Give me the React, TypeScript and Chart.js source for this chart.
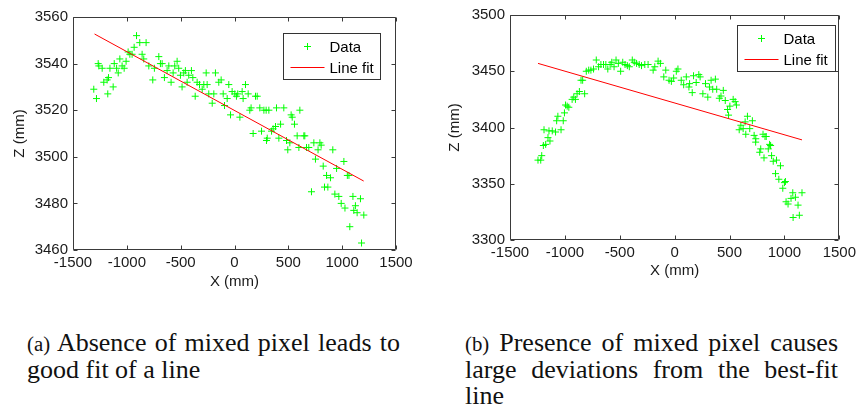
import React, { useEffect, useRef } from "react";
import { Chart, registerables } from "chart.js";
Chart.register(...registerables);

// ---------- data ----------
const seriesLabels = ["Data", "Line fit"];
const xTitle = "X (mm)";
const zTitle = "Z (mm)";
const xTicks = [-1500, -1000, -500, 0, 500, 1000, 1500];
const aZTicks = [3460, 3480, 3500, 3520, 3540, 3560];
const bZTicks = [3300, 3350, 3400, 3450, 3500];

// (a) absence of mixed pixel
const aX = [
  -1307, -1282, -1266, -1260, -1229, -1214, -1183, -1177, -1170, -1157, -1127, -1117, -1095, -1080,
  -1065, -1044, -1025, -1007, -988, -972, -951, -932, -910, -880, -858, -843, -821, -796, -759, -744,
  -703, -688, -672, -651, -626, -610, -589, -570, -555, -533, -518, -502, -487, -471, -456, -440, -425,
  -400, -387, -365, -347, -325, -300, -285, -263, -254, -239, -207, -192, -177, -146,
  -124, -105, -93, -68, -53, -37, -22, 3, 18, 30, 50, 71, 80, 102, 127, 142, 154, 173, 195, 211, 235,
  251, 273, 294, 304, 319, 344, 359, 381, 390, 412, 428, 458, 483, 514, 526, 536, 557, 582, 607, 644,
  669, 737, 793,
  297, 495, 598, 653, 690, 715, 752, 776, 805, 824, 836, 855, 867, 892, 913, 932, 948, 969, 991, 1016,
  1026, 1048, 1063, 1071, 1100, 1108, 1123, 1139, 1170, 1180, 1201,
];
const aZ = [
  3529, 3525, 3540, 3539, 3538, 3532, 3533, 3527, 3534, 3538, 3530, 3540, 3538, 3536,
  3542, 3539, 3538, 3541, 3545, 3544, 3544, 3547, 3552, 3549, 3544, 3542, 3549, 3539, 3533, 3538,
  3543, 3540, 3540, 3534, 3537, 3539, 3532, 3536, 3539, 3541, 3538, 3535, 3530, 3536, 3537, 3532, 3535,
  3537, 3534, 3526, 3532, 3531, 3529, 3531, 3536, 3531, 3527, 3523, 3527, 3536, 3532,
  3533, 3527, 3522, 3525, 3531, 3518, 3528, 3527, 3526, 3527, 3517, 3528, 3525, 3531, 3527, 3520, 3521,
  3510, 3526, 3526, 3521, 3511, 3520, 3520, 3508, 3520, 3511, 3512, 3513, 3521, 3508, 3514, 3521, 3507,
  3506, 3518, 3517, 3514, 3509, 3520, 3509, 3504, 3506, 3506,
  3507, 3503, 3504, 3509, 3504, 3485, 3499, 3503, 3505, 3496, 3487, 3492, 3487, 3491, 3503, 3484, 3495,
  3483, 3480, 3498, 3478, 3492, 3492, 3470, 3483, 3477, 3479, 3476, 3482, 3463, 3475,
];
const aFitX = [-1300, 1200];
const aFitZ = [3552.7, 3489.6];

// (b) presence of mixed pixel
const bX = [
  -1245, -1220, -1211, -1196, -1175, -1154, -1136, -1190, -1145, -1115, -1085, -1035, -1015, -1075,
  -1064, -1004, -994, -979, -964, -934, -919, -904, -889, -868, -853, -838, -820, -805, -783, -763,
  -739, -714, -693, -672, -648, -627, -609, -588, -573, -552, -534, -513, -492, -473, -452, -431, -413,
  -386, -368, -347, -323, -302, -272, -242,
  -196, -181, -151, -130, -99, -81, -51, -30, -9, 15, 30, 60, 82, 106, 130, 136, 160, 172, 196, 220,
  232, 257, 281, 302, 317, 332, 347, 371, 383, 407, 422, 443, 461, 482, 491, 503, 533, 551, 563, 588,
  603, 624, 642, 648, 663, 684, 708, 724, 739, 805, 823, 865,
  738, 834, 775, 784, 814, 853, 874, 883, 898, 928, 964, 919, 949, 1009, 1000, 985, 1076, 1160, 1060,
  1100, 1015, 1033, 1124, 1079, 1136,
];
const bZ = [
  3371, 3371, 3375, 3384, 3385, 3391, 3388, 3398, 3397, 3397, 3396, 3398, 3406, 3406,
  3410, 3413, 3420, 3419, 3418, 3425, 3427, 3425, 3430, 3432, 3442, 3442, 3430, 3450, 3451, 3451,
  3452, 3460, 3454, 3456, 3456, 3456, 3452, 3456, 3458, 3454, 3460, 3457, 3450, 3458, 3456, 3455, 3454,
  3460, 3458, 3457, 3456, 3455, 3456, 3456,
  3451, 3454, 3459, 3457, 3445, 3451, 3442, 3441, 3444, 3450, 3452, 3442, 3438, 3445, 3436, 3439, 3431,
  3446, 3440, 3447, 3445, 3430, 3439, 3427, 3436, 3442, 3434, 3443, 3434, 3426, 3428, 3433, 3424, 3416,
  3411, 3419, 3425, 3423, 3420, 3398, 3402, 3399, 3405, 3394, 3410, 3399, 3406, 3393, 3390, 3394, 3392,
  3385,
  3387, 3392, 3378, 3381, 3373, 3381, 3384, 3375, 3370, 3371, 3366, 3359, 3354, 3352, 3351, 3346, 3342,
  3342, 3337, 3338, 3334, 3332, 3331, 3320, 3322,
];
const bFitX = [-1245, 1160];
const bFitZ = [3457, 3389];

// ---------- styling ----------
const SANS = "'Liberation Sans', Arial, sans-serif";
const GREEN = "rgb(0,255,0)";
const RED = "rgb(255,0,0)";
const AXIS = "#3a3a3a";
const TEXT = "#1a1a1a";

const zip = (xs: number[], ys: number[]) => xs.map((x, i) => ({ x, y: ys[i] }));

const framePlugin = {
  id: "frameLegend",
  afterDatasetsDraw(chart: any, _args: any, opts: any) {
    const { ctx, chartArea: a, scales } = chart;
    ctx.save();
    // box
    ctx.strokeStyle = AXIS;
    ctx.lineWidth = 1;
    const L = Math.round(a.left) + 0.5;
    const R = Math.round(a.right) - 0.5;
    const T = Math.round(a.top) + 0.5;
    const B = Math.round(a.bottom) - 0.5;
    ctx.beginPath();
    ctx.rect(L, T, R - L, B - T);
    ctx.stroke();
    // inward ticks
    const tl = 4;
    ctx.beginPath();
    scales.x.ticks.forEach((t: any) => {
      const px = Math.round(scales.x.getPixelForValue(t.value)) + 0.5;
      ctx.moveTo(px, B);
      ctx.lineTo(px, B - tl);
      ctx.moveTo(px, T);
      ctx.lineTo(px, T + tl);
    });
    scales.y.ticks.forEach((t: any) => {
      const py = Math.round(scales.y.getPixelForValue(t.value)) + 0.5;
      ctx.moveTo(L, py);
      ctx.lineTo(L + tl, py);
      ctx.moveTo(R, py);
      ctx.lineTo(R - tl, py);
    });
    ctx.stroke();

    // legend
    const w = opts.w, h = opts.h;
    const bx = Math.round(a.right - opts.dx - w) + 0.5;
    const by = Math.round(a.top + opts.dy) + 0.5;
    ctx.fillStyle = "#ffffff";
    ctx.fillRect(bx, by, w, h);
    ctx.strokeStyle = "#333333";
    ctx.strokeRect(bx, by, w, h);
    // marker
    ctx.strokeStyle = GREEN;
    ctx.beginPath();
    const mx = bx + 24, my = by + 13;
    ctx.moveTo(mx - 3.5, my);
    ctx.lineTo(mx + 3.5, my);
    ctx.moveTo(mx, my - 3.5);
    ctx.lineTo(mx, my + 3.5);
    ctx.stroke();
    // line
    ctx.strokeStyle = RED;
    ctx.beginPath();
    ctx.moveTo(bx + 7, by + 34);
    ctx.lineTo(bx + 41, by + 34);
    ctx.stroke();
    ctx.fillStyle = "#000000";
    ctx.font = `15px ${SANS}`;
    ctx.textBaseline = "middle";
    ctx.textAlign = "left";
    ctx.fillText(seriesLabels[0], bx + 46, by + 14);
    ctx.fillText(seriesLabels[1], bx + 46, by + 35);
    ctx.restore();
  },
};

type Geo = {
  left: number; w: number; h: number; padTop: number; padRight: number;
  yWidth: number; xHeight: number; yTitlePad: number; xTitlePad: number;
  legDx: number; legDy: number; legW: number; legH: number;
};

function Panel(props: { xs: number[]; zs: number[]; fitX: number[]; fitZ: number[]; zTicks: number[]; geo: Geo }) {
  const ref = useRef<HTMLCanvasElement>(null);
  const { xs, zs, fitX, fitZ, zTicks, geo } = props;
  useEffect(() => {
    const chart = new Chart(ref.current as HTMLCanvasElement, {
      type: "scatter",
      data: {
        datasets: [
          {
            label: seriesLabels[1],
            data: zip(fitX, fitZ),
            showLine: true,
            borderColor: RED,
            borderWidth: 1,
            pointRadius: 0,
          } as any,
          {
            label: seriesLabels[0],
            data: zip(xs, zs),
            pointStyle: "cross",
            pointRadius: 3.5,
            pointBorderWidth: 1,
            borderColor: GREEN,
            backgroundColor: GREEN,
          } as any,
        ],
      },
      options: {
        animation: false,
        responsive: false,
        devicePixelRatio: 1,
        events: [],
        layout: { padding: { top: geo.padTop, right: geo.padRight, left: 0, bottom: 0 } },
        plugins: {
          legend: { display: false },
          tooltip: { enabled: false },
          frameLegend: { dx: geo.legDx, dy: geo.legDy, w: geo.legW, h: geo.legH },
        } as any,
        scales: {
          x: {
            type: "linear",
            min: xTicks[0],
            max: xTicks[xTicks.length - 1],
            afterBuildTicks: (s: any) => { s.ticks = xTicks.map((v) => ({ value: v })); },
            afterFit: (s: any) => { s.height = geo.xHeight; },
            grid: { display: false, drawTicks: false },
            border: { display: false },
            ticks: {
              autoSkip: false, maxRotation: 0, minRotation: 0, padding: 4,
              color: TEXT, font: { family: SANS, size: 15 },
              callback: (v: any) => String(v),
            },
            title: {
              display: true, text: xTitle, color: TEXT,
              font: { family: SANS, size: 15 },
              padding: { top: 0, bottom: geo.xTitlePad },
            },
          },
          y: {
            type: "linear",
            min: zTicks[0],
            max: zTicks[zTicks.length - 1],
            afterBuildTicks: (s: any) => { s.ticks = zTicks.map((v) => ({ value: v })); },
            afterFit: (s: any) => { s.width = geo.yWidth; },
            grid: { display: false, drawTicks: false },
            border: { display: false },
            ticks: {
              autoSkip: false, padding: 5,
              color: TEXT, font: { family: SANS, size: 15 },
              callback: (v: any) => String(v),
            },
            title: {
              display: true, text: zTitle, color: TEXT,
              font: { family: SANS, size: 15 },
              padding: { top: geo.yTitlePad, bottom: 0 },
            },
          },
        },
      } as any,
      plugins: [framePlugin as any],
    });
    return () => chart.destroy();
  }, []);
  return (
    <canvas
      ref={ref}
      width={geo.w}
      height={geo.h}
      style={{ position: "absolute", left: geo.left, top: 0, width: geo.w, height: geo.h }}
    />
  );
}

const geoA: Geo = {
  left: 0, w: 430, h: 300, padTop: 17, padRight: 34, yWidth: 73, xHeight: 50,
  yTitlePad: 11, xTitlePad: 9, legDx: 16, legDy: 16, legW: 97, legH: 46,
};
const geoB: Geo = {
  left: 430, w: 430, h: 300, padTop: 15, padRight: 18, yWidth: 80, xHeight: 60,
  yTitlePad: 16, xTitlePad: 20, legDx: 4, legDy: 10, legW: 98, legH: 46,
};

const captionA = ["Absence of mixed pixel leads to", "good fit of a line"];
const captionB = ["Presence of mixed pixel causes", "large deviations from the best-fit", "line"];

const SERIF = "'Liberation Serif', 'Times New Roman', serif";
const capBox: React.CSSProperties = {
  position: "absolute", top: 330, width: 373, fontFamily: SERIF, fontSize: 26,
  lineHeight: "26px", color: "#111",
};
const just: React.CSSProperties = { textAlign: "justify", textAlignLast: "justify", whiteSpace: "nowrap" };
const left: React.CSSProperties = { textAlign: "left", whiteSpace: "nowrap" };
const small: React.CSSProperties = { fontSize: "0.8em" };

export default function App() {
  return (
    <div style={{ position: "absolute", left: 0, top: 0, width: 860, height: 416, background: "#fff", overflow: "hidden" }}>
      <Panel xs={aX} zs={aZ} fitX={aFitX} fitZ={aFitZ} zTicks={aZTicks} geo={geoA} />
      <Panel xs={bX} zs={bZ} fitX={bFitX} fitZ={bFitZ} zTicks={bZTicks} geo={geoB} />
      <div style={{ ...capBox, left: 27 }}>
        <div style={just}><span style={small}>(a)</span> {captionA[0]}</div>
        <div style={left}>{captionA[1]}</div>
      </div>
      <div style={{ ...capBox, left: 465 }}>
        <div style={just}><span style={small}>(b)</span> {captionB[0]}</div>
        <div style={just}>{captionB[1]}</div>
        <div style={left}>{captionB[2]}</div>
      </div>
    </div>
  );
}
